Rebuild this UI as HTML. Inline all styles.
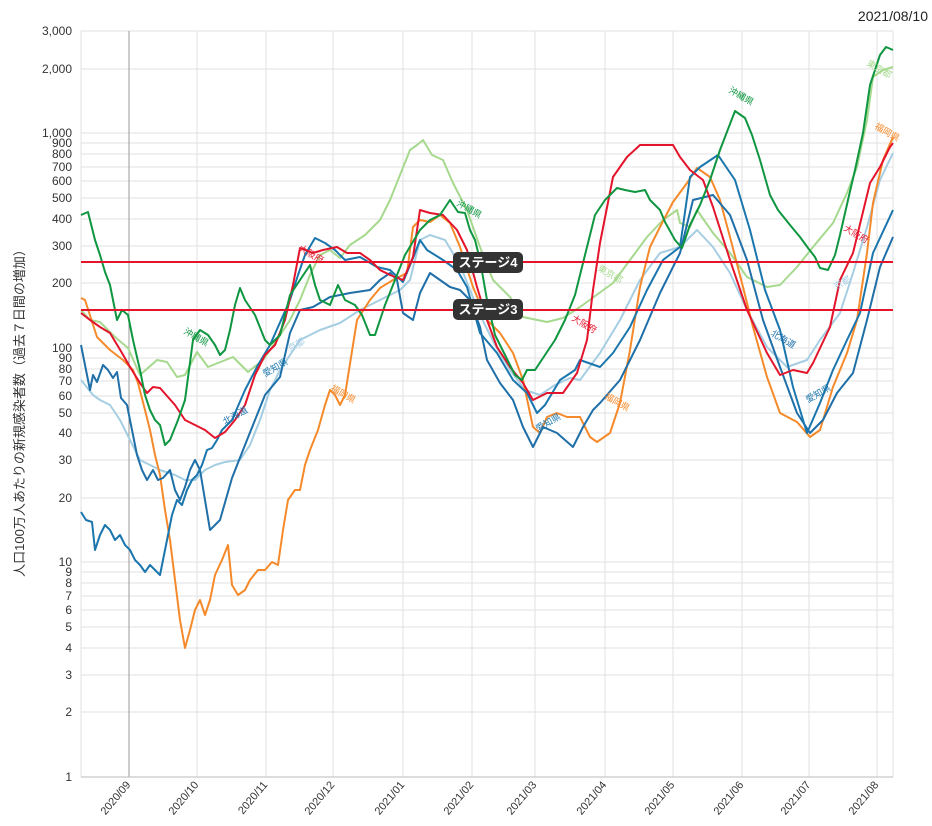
<!DOCTYPE html>
<html><head><meta charset="utf-8"><style>
body{margin:0;background:#fff;}
svg{display:block;font-family:"Liberation Sans","Noto Sans CJK JP",sans-serif;}
</style></head><body>
<svg width="932" height="826" viewBox="0 0 932 826" xmlns="http://www.w3.org/2000/svg">
<text x="928" y="21" font-size="14" text-anchor="end" fill="#222">2021/08/10</text>
<g stroke="#e2e2e2" stroke-width="1">
<line x1="81" x2="893" y1="31" y2="31"/><line x1="81" x2="893" y1="69" y2="69"/><line x1="81" x2="893" y1="133" y2="133"/><line x1="81" x2="893" y1="143" y2="143"/><line x1="81" x2="893" y1="154" y2="154"/><line x1="81" x2="893" y1="167" y2="167"/><line x1="81" x2="893" y1="181" y2="181"/><line x1="81" x2="893" y1="198" y2="198"/><line x1="81" x2="893" y1="219" y2="219"/><line x1="81" x2="893" y1="246" y2="246"/><line x1="81" x2="893" y1="283" y2="283"/><line x1="81" x2="893" y1="348" y2="348"/><line x1="81" x2="893" y1="358" y2="358"/><line x1="81" x2="893" y1="369" y2="369"/><line x1="81" x2="893" y1="381" y2="381"/><line x1="81" x2="893" y1="396" y2="396"/><line x1="81" x2="893" y1="413" y2="413"/><line x1="81" x2="893" y1="433" y2="433"/><line x1="81" x2="893" y1="460" y2="460"/><line x1="81" x2="893" y1="498" y2="498"/><line x1="81" x2="893" y1="562" y2="562"/><line x1="81" x2="893" y1="572" y2="572"/><line x1="81" x2="893" y1="583" y2="583"/><line x1="81" x2="893" y1="596" y2="596"/><line x1="81" x2="893" y1="610" y2="610"/><line x1="81" x2="893" y1="627" y2="627"/><line x1="81" x2="893" y1="648" y2="648"/><line x1="81" x2="893" y1="675" y2="675"/><line x1="81" x2="893" y1="712" y2="712"/>
<line x1="81" x2="81" y1="31" y2="777"/><line x1="197" x2="197" y1="31" y2="777"/><line x1="266" x2="266" y1="31" y2="777"/><line x1="333" x2="333" y1="31" y2="777"/><line x1="403" x2="403" y1="31" y2="777"/><line x1="472" x2="472" y1="31" y2="777"/><line x1="535" x2="535" y1="31" y2="777"/><line x1="605" x2="605" y1="31" y2="777"/><line x1="673" x2="673" y1="31" y2="777"/><line x1="742" x2="742" y1="31" y2="777"/><line x1="809" x2="809" y1="31" y2="777"/><line x1="877" x2="877" y1="31" y2="777"/><line x1="893" x2="893" y1="31" y2="777"/>
</g>
<line x1="129" x2="129" y1="31" y2="777" stroke="#999"/>
<line x1="81" x2="893" y1="777" y2="777" stroke="#bbb"/>
<g font-size="12" fill="#333" text-anchor="end">
<text x="72" y="35">3,000</text><text x="72" y="73">2,000</text><text x="72" y="137">1,000</text><text x="72" y="147">900</text><text x="72" y="158">800</text><text x="72" y="171">700</text><text x="72" y="185">600</text><text x="72" y="202">500</text><text x="72" y="223">400</text><text x="72" y="250">300</text><text x="72" y="287">200</text><text x="72" y="352">100</text><text x="72" y="362">90</text><text x="72" y="373">80</text><text x="72" y="385">70</text><text x="72" y="400">60</text><text x="72" y="417">50</text><text x="72" y="437">40</text><text x="72" y="464">30</text><text x="72" y="502">20</text><text x="72" y="566">10</text><text x="72" y="576">9</text><text x="72" y="587">8</text><text x="72" y="600">7</text><text x="72" y="614">6</text><text x="72" y="631">5</text><text x="72" y="652">4</text><text x="72" y="679">3</text><text x="72" y="716">2</text><text x="72" y="781">1</text>
</g>
<g font-size="11" fill="#333" text-anchor="end">
<text transform="translate(131,785) rotate(-50)">2020/09</text><text transform="translate(199,785) rotate(-50)">2020/10</text><text transform="translate(268,785) rotate(-50)">2020/11</text><text transform="translate(335,785) rotate(-50)">2020/12</text><text transform="translate(405,785) rotate(-50)">2021/01</text><text transform="translate(474,785) rotate(-50)">2021/02</text><text transform="translate(537,785) rotate(-50)">2021/03</text><text transform="translate(607,785) rotate(-50)">2021/04</text><text transform="translate(675,785) rotate(-50)">2021/05</text><text transform="translate(744,785) rotate(-50)">2021/06</text><text transform="translate(811,785) rotate(-50)">2021/07</text><text transform="translate(879,785) rotate(-50)">2021/08</text>
</g>
<text transform="translate(24,410) rotate(-90)" font-size="13" fill="#333" text-anchor="middle">人口100万人あたりの新規感染者数（過去７日間の増加）</text>
<g fill="none" stroke-width="2" stroke-linejoin="round">
<polyline stroke="#a6d98e" points="81,310 90,320 100,322 115,337 128,348 140,375 157,360 167,362 177,377 185,375 197,352 208,367 233,357 248,372 263,360 277,340 290,320 300,300 310,275 320,255 330,250 340,258 350,245 365,235 380,220 390,200 400,175 410,150 417,145 423,140 432,155 443,160 453,183 467,210 480,247 493,280 510,297 523,317 547,322 563,318 580,307 613,283 630,260 647,237 663,220 677,210 680,223 690,227 697,210 713,233 730,253 747,277 767,287 780,285 797,267 813,247 833,223 847,193 857,167 867,120 873,77 883,70 893,67"/>
<polyline stroke="#a6cee3" points="81,380 93,395 100,400 110,405 120,420 130,440 140,460 150,465 160,470 175,475 185,480 195,480 205,470 215,465 225,462 240,460 250,445 260,420 270,390 280,370 290,355 300,340 310,335 320,330 340,323 360,310 380,300 400,290 410,280 420,240 430,235 445,240 460,265 470,290 480,315 495,345 510,370 525,390 540,395 555,385 570,378 580,380 600,353 620,320 640,280 660,253 680,247 697,230 713,247 730,273 747,310 767,347 787,367 807,360 820,340 840,313 853,273 867,227 880,180 893,153"/>
<polyline stroke="#f58a2b" points="81,298 85,300 97,337 110,350 123,360 133,370 138,383 145,410 150,430 155,455 160,475 165,510 170,540 175,580 180,620 185,648 190,630 195,610 200,600 205,615 210,600 215,575 222,560 228,545 232,585 238,595 245,590 250,580 258,570 265,570 272,562 278,565 283,530 288,500 295,490 300,490 305,465 310,450 318,430 325,405 330,390 335,395 340,405 345,395 357,320 370,300 380,288 393,280 407,273 413,227 420,220 430,222 440,215 450,223 460,247 473,287 487,320 500,333 513,353 523,380 533,427 540,433 547,417 557,413 567,417 580,417 590,437 597,442 610,433 620,403 630,350 640,287 650,247 660,227 673,202 687,183 697,168 710,177 720,200 730,237 743,287 753,327 767,377 780,413 797,422 810,437 820,430 833,387 847,353 857,320 867,253 873,203 883,160 893,137"/>
<polyline stroke="#1f6fa8" points="81,345 86,370 90,390 93,375 97,382 103,365 108,370 113,378 117,372 121,398 127,405 132,430 137,455 142,470 147,480 153,470 158,480 163,478 170,470 175,490 180,500 185,487 190,470 195,460 200,470 205,500 210,530 220,520 232,478 245,445 255,420 265,395 280,377 290,333 300,310 313,307 330,297 350,293 370,290 380,280 390,273 397,280 403,313 413,320 420,293 430,273 440,280 450,287 460,290 470,300 480,327 487,360 500,383 513,400 523,427 533,447 543,427 557,433 573,447 583,427 593,410 600,403 620,380 640,340 660,293 680,253 693,200 713,195 730,215 747,260 763,320 780,367 797,413 810,433 823,420 837,393 853,373 867,320 880,267 893,237"/>
<polyline stroke="#1a76ad" points="81,512 86,520 92,522 95,550 100,535 105,525 110,530 115,540 120,535 125,545 130,550 135,560 140,565 145,572 150,565 155,570 160,575 163,560 168,535 172,515 177,500 182,505 187,490 192,480 197,475 202,465 207,450 212,448 217,440 222,430 227,425 232,420 245,390 258,365 270,345 282,318 290,300 298,275 305,255 315,238 325,243 335,250 345,260 360,257 377,267 390,270 403,282 413,258 420,240 427,250 443,260 457,270 467,287 480,333 497,353 513,380 527,393 537,413 545,405 560,380 575,370 580,360 600,367 613,353 630,327 647,290 663,260 680,247 690,177 700,167 718,155 735,180 750,230 765,290 780,330 793,387 807,433 820,403 833,370 847,340 860,313 873,253 893,210"/>
<polyline stroke="#e3142b" points="81,313 90,320 100,327 110,333 122,353 130,367 140,383 147,393 153,387 160,388 175,405 185,420 195,425 205,430 215,438 225,432 235,420 245,405 255,375 265,355 275,345 285,320 293,285 300,248 313,253 323,250 337,247 347,253 360,253 370,260 380,270 390,275 403,280 413,257 420,210 430,213 443,215 457,230 467,250 477,287 487,320 497,347 510,367 523,383 533,400 547,393 563,393 577,373 587,340 593,290 600,243 613,177 627,157 640,145 663,145 673,145 680,157 690,170 703,180 713,207 730,260 747,310 767,353 780,375 793,370 807,373 813,363 830,327 840,280 853,253 870,183 880,167 890,147 893,143"/>
<polyline stroke="#0f9640" points="81,215 88,212 95,240 100,255 105,272 110,285 113,300 117,320 122,310 128,315 133,340 140,370 145,395 150,410 155,420 160,425 165,445 170,440 178,420 185,400 193,340 200,330 208,335 215,345 220,355 225,350 230,330 235,305 240,288 245,300 255,315 265,340 270,345 280,335 290,295 300,280 310,265 315,285 320,300 330,305 338,285 345,300 355,305 362,315 370,335 375,335 385,305 395,280 405,255 420,230 430,220 440,215 450,200 458,212 465,213 470,230 475,240 480,260 487,300 495,335 505,355 515,375 522,380 527,370 535,370 545,355 555,340 565,320 575,295 585,255 595,215 605,200 617,188 625,190 635,192 645,190 650,200 660,210 665,222 675,240 682,248 690,225 700,205 710,180 720,150 735,111 745,118 752,135 760,160 770,195 778,210 790,225 800,237 808,248 815,257 820,268 828,270 835,255 840,235 848,200 855,170 863,133 870,85 880,55 886,47 893,50"/>
</g>
<line x1="81" x2="893" y1="262" y2="262" stroke="#e3142b" stroke-width="2"/>
<line x1="81" x2="893" y1="310" y2="310" stroke="#e3142b" stroke-width="2"/>
<rect x="453" y="252" width="70" height="21" rx="5" fill="#333"/>
<text x="488" y="267" font-size="13" font-weight="bold" fill="#fff" text-anchor="middle">ステージ4</text>
<rect x="453" y="299" width="70" height="21" rx="5" fill="#333"/>
<text x="488" y="314" font-size="13" font-weight="bold" fill="#fff" text-anchor="middle">ステージ3</text>
<g font-size="9">
<text transform="translate(183,333) rotate(30)" fill="#0f9640">沖縄県</text>
<text transform="translate(456,205) rotate(30)" fill="#0f9640">沖縄県</text>
<text transform="translate(728,92) rotate(30)" fill="#0f9640">沖縄県</text>
<text transform="translate(298,250) rotate(30)" fill="#e3142b">大阪府</text>
<text transform="translate(571,320) rotate(30)" fill="#e3142b">大阪府</text>
<text transform="translate(843,230) rotate(30)" fill="#e3142b">大阪府</text>
<text transform="translate(330,390) rotate(30)" fill="#f58a2b">福岡県</text>
<text transform="translate(604,398) rotate(30)" fill="#f58a2b">福岡県</text>
<text transform="translate(874,128) rotate(30)" fill="#f58a2b">福岡県</text>
<text transform="translate(225,425) rotate(-30)" fill="#1f6fa8">北海道</text>
<text transform="translate(770,335) rotate(30)" fill="#1f6fa8">北海道</text>
<text transform="translate(265,377) rotate(-30)" fill="#1a76ad">愛知県</text>
<text transform="translate(538,432) rotate(-30)" fill="#1a76ad">愛知県</text>
<text transform="translate(808,403) rotate(-30)" fill="#1a76ad">愛知県</text>
<text transform="translate(597,270) rotate(30)" fill="#a6d98e">東京都</text>
<text transform="translate(866,65) rotate(30)" fill="#a6d98e">東京都</text>
<text transform="translate(290,352) rotate(-30)" fill="#a6cee3">京都</text>
<text transform="translate(836,290) rotate(-30)" fill="#a6cee3">京都</text>
</g>
</svg>
</body></html>
